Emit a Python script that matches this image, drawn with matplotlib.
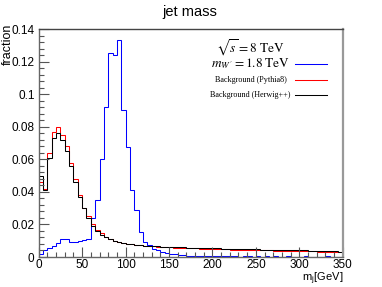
import numpy as np
import matplotlib
matplotlib.use("Agg")
import matplotlib.pyplot as plt
from matplotlib.ticker import MultipleLocator, FuncFormatter

# ---- data (fraction per 5 GeV bin, 0-350 GeV) ----
bin_width = 5
n_bins = 70
signal = [0.002, 0.004, 0.0055, 0.0068, 0.0088, 0.011, 0.011, 0.0095, 0.009, 0.010, 0.0105, 0.011,
          0.024, 0.035, 0.0605, 0.0925, 0.1255, 0.1245, 0.1335, 0.0905, 0.0675, 0.041, 0.029, 0.0155,
          0.0095, 0.0072, 0.0052, 0.004, 0.0032, 0.0025, 0.002, 0.0017, 0.0013, 0.0011, 0.0009, 0.0008,
          0.0007, 0.0006, 0.0007, 0.0005, 0.0006, 0.0004, 0.0005, 0.0004, 0.0006, 0.0005, 0.0003, 0.0004,
          0.0005, 0.0003, 0.0004, 0.0003, 0.0005, 0.0003, 0.0004, 0.0003, 0.0002, 0.0004, 0.0003, 0.0002,
          0.0003, 0.0004, 0.0002, 0.0003, 0.0002, 0.0003, 0.0004, 0.0002, 0.0003, 0.0002]
pythia = [0.046, 0.042, 0.064, 0.077, 0.080, 0.075, 0.068, 0.058, 0.048, 0.038, 0.030, 0.025, 0.020,
          0.0165, 0.0145, 0.0125, 0.0108, 0.0097, 0.0090, 0.0085, 0.0080, 0.0077, 0.0074, 0.0071, 0.0069, 0.0067,
          0.0066, 0.0064, 0.0063, 0.0061, 0.0060, 0.0058, 0.0058, 0.0056, 0.0055, 0.0054, 0.0054, 0.0052, 0.0051, 0.0050, 0.0050,
          0.0048, 0.0048, 0.0047, 0.0046, 0.0046, 0.0044, 0.0044, 0.0043, 0.0043, 0.0042, 0.0041, 0.0040, 0.0041, 0.0039, 0.0038,
          0.0038, 0.0037, 0.0037, 0.0036, 0.0036, 0.0035, 0.0034, 0.0034, 0.0033, 0.0033, 0.0032, 0.0031, 0.0031, 0.0030]
herwig = [0.050, 0.041, 0.061, 0.073, 0.076, 0.072, 0.065, 0.056, 0.046, 0.037, 0.030, 0.024, 0.019,
          0.016, 0.0135, 0.012, 0.0108, 0.0098, 0.0092, 0.0086, 0.0082, 0.0078, 0.0075, 0.0072, 0.0070, 0.0068,
          0.0067, 0.0065, 0.0064, 0.0063, 0.0062, 0.0061, 0.0060, 0.0059, 0.0058, 0.0058, 0.0056, 0.0056, 0.0055, 0.0054, 0.0054,
          0.0053, 0.0052, 0.0052, 0.0051, 0.0050, 0.0050, 0.0049, 0.0049, 0.0048, 0.0047, 0.0046, 0.0046, 0.0045, 0.0044, 0.0044,
          0.0043, 0.0043, 0.0042, 0.0041, 0.0041, 0.0040, 0.0039, 0.0039, 0.0038, 0.0037, 0.0036, 0.0035, 0.0034, 0.0033]
edges = np.arange(n_bins + 1) * bin_width

W, H = 382, 287
fig = plt.figure(figsize=(W / 100, H / 100), dpi=100)
plt.rcParams['mathtext.fontset'] = 'stix'
ax = fig.add_axes([38.7 / W, 1 - 257 / H, (342.7 - 38.7) / W, (257 - 29.3) / H])

lw = 0.75
ax.stairs(signal, edges, color='#0000ff', lw=lw, baseline=None)
ax.stairs(pythia, edges, color='#ff0000', lw=lw, baseline=None)
ax.stairs(herwig, edges, color='#000000', lw=lw, baseline=None)

ax.set_xlim(0, 350)
ax.set_ylim(0, 0.14)

ax.xaxis.set_major_locator(MultipleLocator(50))
ax.xaxis.set_minor_locator(MultipleLocator(10))
ax.yaxis.set_major_locator(MultipleLocator(0.02))
ax.yaxis.set_minor_locator(MultipleLocator(0.004))
ax.yaxis.set_major_formatter(FuncFormatter(lambda v, p: '%g' % round(v, 4)))

ax.tick_params(which='both', direction='in', top=False, right=False, color='#555555')
ax.tick_params(axis='x', which='major', length=7, width=0.8, pad=1.5)
ax.tick_params(axis='y', which='major', length=7, width=0.8, pad=3)
ax.tick_params(which='minor', length=3.5, width=0.8)
for lab in ax.get_xticklabels() + ax.get_yticklabels():
    lab.set_fontfamily('Liberation Sans')
    lab.set_fontsize(8.5)

for s in ['left', 'bottom']:
    ax.spines[s].set_color('#666666')
    ax.spines[s].set_linewidth(1.0)
ax.spines['top'].set_color('#444444')
ax.spines['top'].set_linewidth(1.0)
ax.spines['right'].set_color('#999999')
ax.spines['right'].set_linewidth(1.6)

fig.text(190 / W, 1 - 12 / H, 'jet mass', ha='center', va='center', family='Liberation Sans', fontsize=10.5)
fig.text(7.5 / W, 1 - 24 / H, 'fraction', rotation=90, ha='center', va='top', family='Liberation Sans', fontsize=9)
fig.text(343 / W, 1 - 278.5 / H, r'm$_\mathregular{j}$[GeV]', ha='right', va='center', family='Liberation Sans', fontsize=8)

# legend-like block
cx = 250.5 / W
fig.text(cx, 1 - 48 / H, r'$\sqrt{s} = 8\ \mathrm{TeV}$', ha='center', va='center', fontsize=9.5)
fig.text(cx, 1 - 64 / H, r"$m_{W^{\prime}} = 1.8\ \mathrm{TeV}$", ha='center', va='center', fontsize=9.5)
fig.text(cx, 1 - 80 / H, 'Background (Pythia8)', ha='center', va='center', family='Liberation Serif', fontsize=5.9)
fig.text(cx, 1 - 94.5 / H, 'Background (Herwig++)', ha='center', va='center', family='Liberation Serif', fontsize=5.9)
for yy, c in [(64.3, '#0000ff'), (80, '#ff0000'), (94.5, '#000000')]:
    fig.add_artist(plt.Line2D([295 / W, 327.3 / W], [1 - yy / H, 1 - yy / H], color=c, lw=lw,
                              transform=fig.transFigure))

fig.savefig('out.png', dpi=100)
